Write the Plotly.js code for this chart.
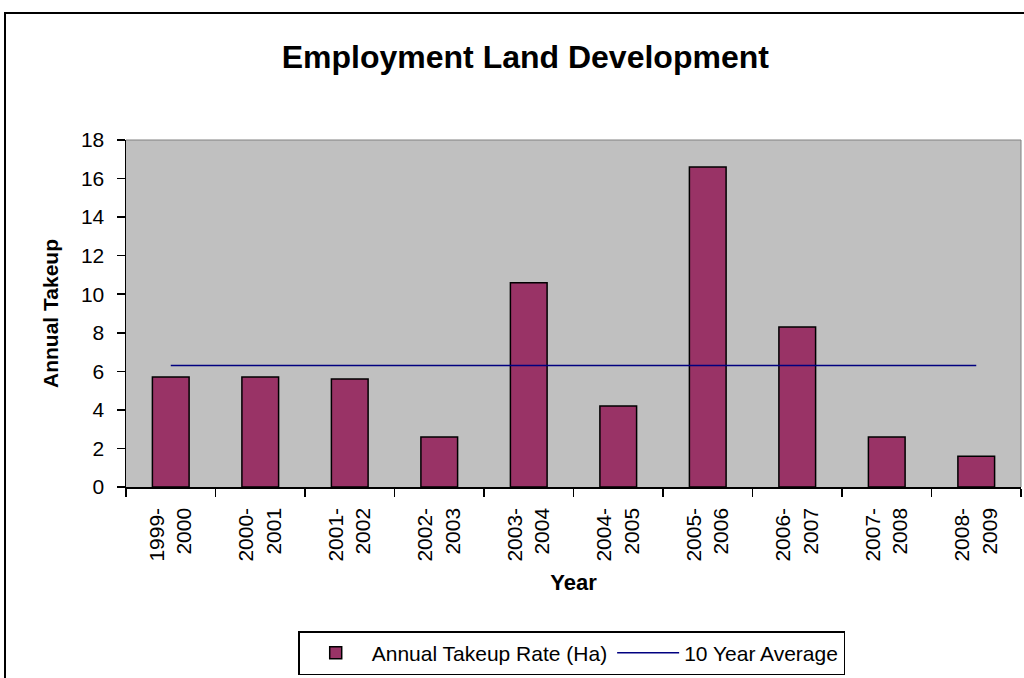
<!DOCTYPE html>
<html>
<head>
<meta charset="utf-8">
<script src="https://cdn.plot.ly/plotly-3.0.1.min.js"></script>
<style>
  html, body { margin: 0; padding: 0; background: #ffffff; }
  #chart { position: absolute; left: 0; top: 0; width: 1024px; height: 678px; }
  #frame { position: absolute; left: 4px; top: 12px; width: 1040px; height: 700px;
           border: 2px solid #000; pointer-events: none; }
</style>
</head>
<body>
<div id="chart"></div>
<div id="frame"></div>
<script>
const categories = ["1999-<br>2000", "2000-<br>2001", "2001-<br>2002", "2002-<br>2003", "2003-<br>2004",
                    "2004-<br>2005", "2005-<br>2006", "2006-<br>2007", "2007-<br>2008", "2008-<br>2009"];
const annualTakeup = [5.7, 5.7, 5.6, 2.6, 10.6, 4.2, 16.6, 8.3, 2.6, 1.6];
const averageX = ["1999-<br>2000", "2008-<br>2009"];
const averageY = [6.3, 6.3];

const font = "Liberation Sans, Arial, sans-serif";

const traces = [
  {
    type: "bar",
    name: "Annual Takeup Rate (Ha)",
    x: categories,
    y: annualTakeup,
    width: 0.41,
    marker: { color: "#993366", line: { color: "#000000", width: 1.5 } }
  },
  {
    type: "scatter",
    mode: "lines",
    name: "10 Year Average",
    x: averageX,
    y: averageY,
    line: { color: "#000080", width: 1.5 }
  }
];

const layout = {
  width: 1024,
  height: 678,
  margin: { l: 126, r: 3, t: 140, b: 189 },
  paper_bgcolor: "#ffffff",
  plot_bgcolor: "#C0C0C0",
  font: { family: font, color: "#000000", size: 20 },
  title: {
    text: "Employment Land Development",
    font: { family: font, size: 32, weight: "bold", color: "#000" },
    x: 0.513, xanchor: "center",
    y: 0.916, yanchor: "middle"
  },
  xaxis: {
    type: "category",
    tickangle: -90,
    tickson: "boundaries",
    ticks: "outside",
    ticklen: 8,
    tickwidth: 1.5,
    tickcolor: "#000",
    ticklabelstandoff: 11,
    showline: true,
    linecolor: "#000",
    linewidth: 1.5,
    showgrid: false,
    tickfont: { family: font, size: 21, color: "#000" },
    title: { text: "Year", font: { family: font, size: 22, weight: "bold", color: "#000" }, standoff: 14 }
  },
  yaxis: {
    range: [0, 18],
    dtick: 2,
    ticks: "outside",
    ticklen: 8,
    tickwidth: 1.5,
    tickcolor: "#000",
    ticklabelstandoff: 8,
    showline: true,
    linecolor: "#000",
    linewidth: 1.5,
    showgrid: false,
    zeroline: false,
    tickfont: { family: font, size: 21, color: "#000" },
    title: { text: "Annual Takeup", font: { family: font, size: 21, weight: "bold", color: "#000" }, standoff: 16 }
  },
  shapes: [
    { type: "line", xref: "paper", yref: "paper", x0: 0, x1: 1, y0: 1, y1: 1, line: { color: "#808080", width: 1 } },
    { type: "line", xref: "paper", yref: "paper", x0: 1, x1: 1, y0: 0, y1: 1, line: { color: "#808080", width: 1 } }
  ],
  showlegend: true,
  legend: {
    orientation: "h",
    x: 0.498, xanchor: "center",
    y: -0.415, yanchor: "top",
    bordercolor: "#000",
    borderwidth: 1.5,
    bgcolor: "#fff",
    font: { family: font, size: 21, color: "#000" },
    itemwidth: 62,
    traceorder: "normal"
  },
  bargap: 0.6
};

Plotly.newPlot("chart", traces, layout, { displayModeBar: false, staticPlot: true });
</script>
</body>
</html>
